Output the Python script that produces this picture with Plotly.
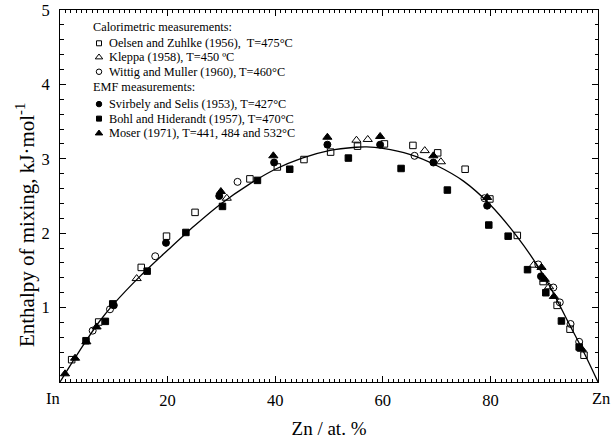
import plotly.graph_objects as go

# ---- data ----
oelsen_x = [2.17, 7.19, 15.1, 19.8, 25.1, 35.3, 40.4, 45.35, 50.3, 55.3, 60.3, 65.6, 70.2, 75.3, 79.9, 85.0, 89.8, 92.4, 94.8, 97.4]
oelsen_y = [0.30, 0.806, 1.54, 1.96, 2.28, 2.73, 2.89, 2.99, 3.09, 3.17, 3.20, 3.18, 3.08, 2.86, 2.46, 1.97, 1.35, 1.03, 0.71, 0.36]

kleppa_x = [14.25, 31.0, 55.1, 57.2, 67.8, 70.8, 88.0, 90.9]
kleppa_y = [1.39, 2.47, 3.25, 3.26, 3.11, 2.96, 1.57, 1.28]

wittig_x = [6.07, 9.29, 17.7, 33.0, 65.9, 78.9, 88.9, 91.7, 92.9, 94.9, 96.5]
wittig_y = [0.69, 0.977, 1.69, 2.69, 3.04, 2.47, 1.58, 1.27, 1.07, 0.78, 0.54]

svirbely_x = [10.0, 19.7, 29.6, 39.8, 49.7, 59.5, 69.4, 79.4, 89.4]
svirbely_y = [1.03, 1.87, 2.50, 2.95, 3.19, 3.19, 2.95, 2.37, 1.42]

bohl_x = [4.83, 8.43, 9.8, 16.2, 23.4, 30.2, 36.7, 42.7, 53.6, 63.4, 72.0, 79.7, 83.3, 86.9, 90.3, 93.2, 96.5]
bohl_y = [0.555, 0.815, 1.05, 1.49, 2.01, 2.36, 2.71, 2.86, 3.01, 2.87, 2.58, 2.11, 1.96, 1.51, 1.20, 0.82, 0.47]

moser_x = [0.93, 2.8, 4.9, 6.8, 29.9, 39.65, 49.7, 59.5, 69.4, 79.4, 89.5, 90.1, 91.8, 97.0]
moser_y = [0.11, 0.32, 0.54, 0.74, 2.56, 3.04, 3.29, 3.30, 3.04, 2.48, 1.54, 1.38, 1.15, 0.44]

curve_x = [0, 2.5, 5, 7.5, 10, 15, 20, 25, 30, 35, 40, 45, 50, 55, 57, 60, 65, 70, 75, 80, 85, 90, 95, 97.5, 100]
curve_y = [0, 0.29, 0.57, 0.83, 1.05, 1.43, 1.77, 2.10, 2.40, 2.65, 2.86, 3.01, 3.11, 3.155, 3.16, 3.14, 3.06, 2.91, 2.70, 2.38, 1.95, 1.42, 0.73, 0.38, 0]

x_tickvals = [20, 40, 60, 80]
x_ticktext = ["20", "40", "60", "80"]
y_tickvals = [1, 2, 3, 4, 5]
y_ticktext = ["1", "2", "3", "4", "5"]

series = [
    ("Oelsen and Zuhlke (1956),  T=475\u00b0C", oelsen_x, oelsen_y, "square-open", 6.5),
    ("Kleppa (1958), T=450 \u00baC", kleppa_x, kleppa_y, "triangle-up-open", 8),
    ("Wittig and Muller (1960), T=460\u00b0C", wittig_x, wittig_y, "circle-open", 7),
    ("Svirbely and Selis (1953), T=427\u00b0C", svirbely_x, svirbely_y, "circle", 7),
    ("Bohl and Hiderandt (1957), T=470\u00b0C", bohl_x, bohl_y, "square", 6.5),
    ("Moser (1971), T=441, 484 and 532\u00b0C", moser_x, moser_y, "triangle-up", 8),
]
headings = ["Calorimetric measurements:", "EMF measurements:"]

FONT = "Liberation Serif"

fig = go.Figure()
fig.add_trace(go.Scatter(x=curve_x, y=curve_y, mode="lines", line=dict(color="black", width=1.3, shape="spline", smoothing=0.8),
                         showlegend=False, hoverinfo="skip"))
for name, xs, ys, sym, sz in series:
    fig.add_trace(go.Scatter(x=xs, y=ys, mode="markers", name=name, showlegend=False, cliponaxis=False,
                             marker=dict(symbol=sym, size=sz, color="black", line=dict(color="black", width=1))))

# manual legend (layout positions in a 0..1 overlay frame)
row_y = [0.9105, 0.873, 0.834, 0.747, 0.708, 0.6685]
head_y = [0.955, 0.792]
mk_x = 0.0725
txt_x = 0.087
head_x = 0.057
for (name, xs, ys, sym, sz), ry in zip(series, row_y):
    fig.add_trace(go.Scatter(x=[mk_x], y=[ry], xaxis="x2", yaxis="y2", mode="markers", showlegend=False, cliponaxis=False,
                             hoverinfo="skip",
                             marker=dict(symbol=sym, size=sz - 1.5, color="black", line=dict(color="black", width=1))))
    fig.add_annotation(x=txt_x, y=ry, xref="x2", yref="y2", text=name, showarrow=False, xanchor="left", yanchor="middle",
                       font=dict(family=FONT, size=12.3, color="black"))
for h, hy in zip(headings, head_y):
    fig.add_annotation(x=head_x, y=hy, xref="x2", yref="y2", text=h, showarrow=False, xanchor="left", yanchor="middle",
                       font=dict(family=FONT, size=12.3, color="black"))

# end labels of composition axis
fig.add_annotation(x=0, y=0, xref="x", yref="paper", text="In", showarrow=False, xanchor="center", yanchor="top",
                   xshift=-7, yshift=-5, font=dict(family=FONT, size=16.5, color="black"))
fig.add_annotation(x=100, y=0, xref="x", yref="paper", text="Zn", showarrow=False, xanchor="center", yanchor="top",
                   xshift=3, yshift=-5, font=dict(family=FONT, size=16.5, color="black"))

# y-axis title (placed as in the reference, slightly below the plot centre)
fig.add_annotation(x=-0.065, y=0.422, xref="paper", yref="paper", text="Enthalpy of mixing, kJ\u00b7mol<sup>-1</sup>",
                   textangle=-90, showarrow=False, xanchor="center", yanchor="middle",
                   font=dict(family=FONT, size=21, color="black"))

axis_common = dict(showline=True, linecolor="black", linewidth=1, mirror="ticks", ticks="inside", tickcolor="black",
                   showgrid=False, zeroline=False, tickfont=dict(family=FONT, size=16.5, color="black"))
fig.update_layout(
    template="none",
    width=611, height=439,
    margin=dict(l=60, r=13, t=10, b=57),
    paper_bgcolor="white", plot_bgcolor="white",
    font=dict(family=FONT, color="black"),
    xaxis=dict(range=[0, 100], tickmode="array", tickvals=x_tickvals, ticktext=x_ticktext, ticklen=6, tickwidth=1,
               ticklabelstandoff=3,
               minor=dict(tickmode="linear", tick0=0, dtick=1, ticks="inside", ticklen=3, tickcolor="black"),
               title=dict(text="Zn / at. %", font=dict(family=FONT, size=19, color="black"), standoff=13),
               **axis_common),
    yaxis=dict(range=[0, 5], tickmode="array", tickvals=y_tickvals, ticktext=y_ticktext, ticklen=6, tickwidth=1,
               ticklabelstandoff=6,
               minor=dict(tickmode="linear", tick0=0, dtick=0.2, ticks="inside", ticklen=3.5, tickcolor="black"),
               **axis_common),
    xaxis2=dict(overlaying="x", range=[0, 1], visible=False),
    yaxis2=dict(overlaying="y", range=[0, 1], visible=False),
)

fig.write_html("out.html")
